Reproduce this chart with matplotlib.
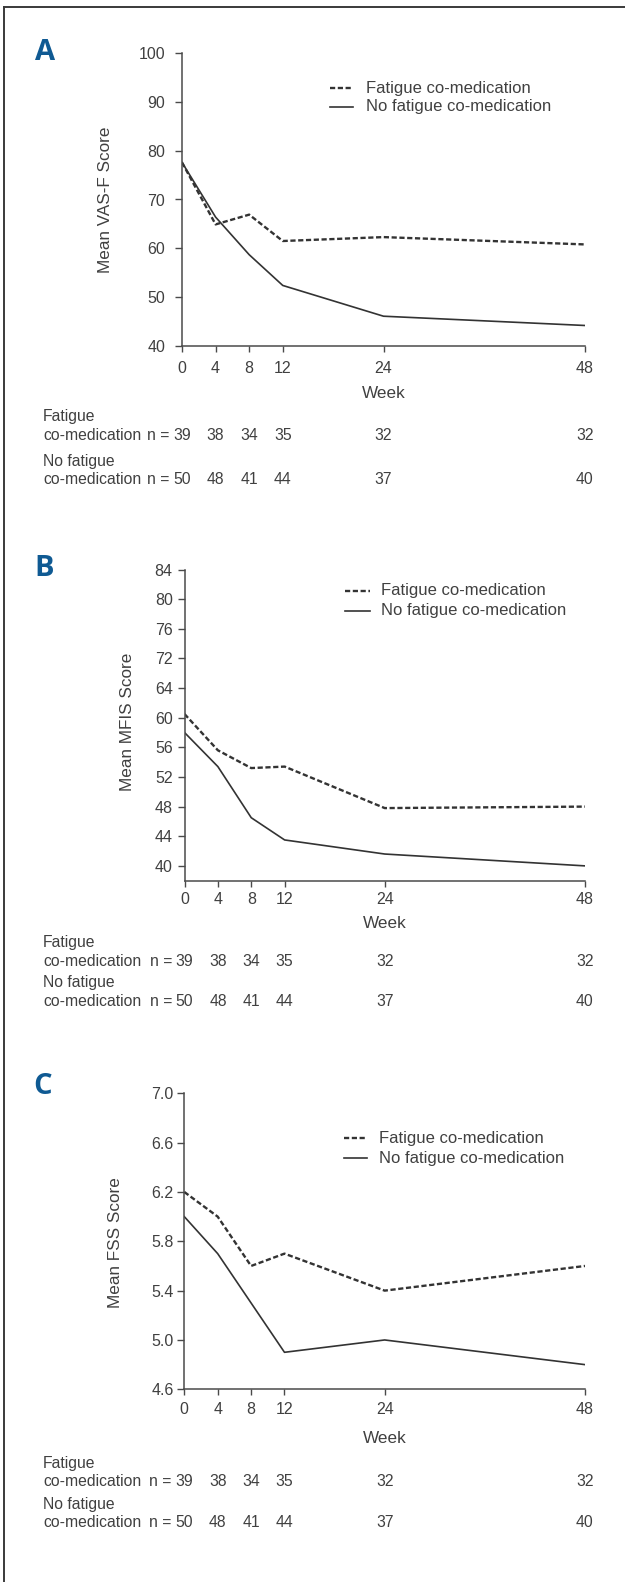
import matplotlib
matplotlib.use("Agg")
import matplotlib.pyplot as plt
from matplotlib.lines import Line2D
from matplotlib.transforms import blended_transform_factory

plt.rcParams['font.family'] = ['Liberation Sans', 'DejaVu Sans']

# --- data ---
weeks = [0, 4, 8, 12, 24, 48]
week_labels = ['0', '4', '8', '12', '24', '48']

vasf_fatigue = [77.6, 64.9, 66.9, 61.5, 62.3, 60.8]
vasf_no_fatigue = [77.6, 66.4, 58.7, 52.4, 46.1, 44.2]

mfis_fatigue = [60.5, 55.6, 53.2, 53.4, 47.8, 48.0]
mfis_no_fatigue = [58.0, 53.4, 46.5, 43.5, 41.6, 40.0]

fss_fatigue = [6.2, 6.0, 5.6, 5.7, 5.4, 5.6]
fss_no_fatigue = [6.0, 5.7, 5.3, 4.9, 5.0, 4.8]

n_fatigue = [39, 38, 34, 35, 32, 32]
n_no_fatigue = [50, 48, 41, 44, 37, 40]

vasf_ticks = [40, 50, 60, 70, 80, 90, 100]
mfis_ticks = [40, 44, 48, 52, 56, 60, 64, 68, 72, 76, 80]
mfis_tick_labels = ['40', '44', '48', '52', '56', '60', '64', '72', '76', '80', '84']
fss_ticks = [4.6, 5.0, 5.4, 5.8, 6.2, 6.6, 7.0]
fss_tick_labels = ['4.6', '5.0', '5.4', '5.8', '6.2', '6.6', '7.0']

legend_labels = ['Fatigue co-medication', 'No fatigue co-medication']

# --- layout (pixels) ---
W, H = 625, 1582
TXT = '#404040'
LINE = '#333333'
BLUE = '#0f5a93'
FS_TICK = 11.5
FS_LAB = 12.3
FS_LEG = 12
FS_TAB = 11.3
DASH = (0, (2.2, 1.1))


def fx(x):
    return x / W


def fy(y):
    return 1 - y / H


fig = plt.figure(figsize=(W / 100, H / 100), dpi=100)
fig.patch.set_facecolor('white')

# outer frame (top and left edges, runs off the page)
fig.add_artist(Line2D([fx(4), fx(W + 5)], [fy(7), fy(7)], transform=fig.transFigure,
                      color='#3a3a3a', lw=1.4))
fig.add_artist(Line2D([fx(4), fx(4)], [fy(7), fy(H + 5)], transform=fig.transFigure,
                      color='#3a3a3a', lw=1.4))

panels = [
    dict(letter='A', rect=(182, 53, 585, 346), ylim=(40, 100), yticks=vasf_ticks,
         yticklabels=[str(t) for t in vasf_ticks], ytpad=7.0, xtpad=6.5,
         fat=vasf_fatigue, nofat=vasf_no_fatigue, ylabel='Mean VAS-F Score',
         letter_xy=(45, 52), ylabel_xy=(106, 200), leg_y=(88, 107), leg_x=(330, 353, 366),
         week_y=393.5, rows=(416.7, 435, 461.7, 480)),
    dict(letter='B', rect=(184.5, 569.5, 585, 880.7), ylim=(38, 80), yticks=mfis_ticks,
         yticklabels=mfis_tick_labels, ytpad=3.5, xtpad=4.0,
         fat=mfis_fatigue, nofat=mfis_no_fatigue, ylabel='Mean MFIS Score',
         letter_xy=(44, 568), ylabel_xy=(127.5, 722), leg_y=(591, 611), leg_x=(345, 370, 381),
         week_y=924, rows=(942.7, 961.3, 982.7, 1001.7)),
    dict(letter='C', rect=(184.3, 1093.3, 585, 1389.3), ylim=(4.6, 7.0), yticks=fss_ticks,
         yticklabels=fss_tick_labels, ytpad=2.7, xtpad=5.5,
         fat=fss_fatigue, nofat=fss_no_fatigue, ylabel='Mean FSS Score',
         letter_xy=(43, 1087), ylabel_xy=(115.6, 1243), leg_y=(1138, 1158), leg_x=(344, 367, 379),
         week_y=1438.3, rows=(1463.3, 1481.7, 1505, 1522.7)),
]

for p in panels:
    l, t, r, b = p['rect']
    ax = fig.add_axes([fx(l), fy(b), (r - l) / W, (b - t) / H])
    ax.plot(weeks, p['fat'], color=LINE, lw=1.7, linestyle=DASH)
    ax.plot(weeks, p['nofat'], color=LINE, lw=1.2)

    ax.set_xlim(0, 48)
    ax.set_ylim(*p['ylim'])
    ax.set_xticks(weeks)
    ax.set_xticklabels(week_labels)
    ax.set_yticks(p['yticks'])
    ax.set_yticklabels(p['yticklabels'])
    for s in ['top', 'right']:
        ax.spines[s].set_visible(False)
    for s in ['left', 'bottom']:
        ax.spines[s].set_color('#4a4a4a')
        ax.spines[s].set_linewidth(1.1)
    ax.tick_params(axis='y', length=5, width=1.0, color='#4a4a4a', labelsize=FS_TICK,
                   labelcolor=TXT, pad=p['ytpad'])
    ax.tick_params(axis='x', length=4, width=1.0, color='#4a4a4a', labelsize=FS_TICK,
                   labelcolor=TXT, pad=p['xtpad'])
    ax.set_facecolor('none')

    # panel letter and axis titles
    fig.text(fx(p['letter_xy'][0]), fy(p['letter_xy'][1]), p['letter'], color=BLUE,
             fontsize=21, fontweight='bold', ha='center', va='center',
             family=['Open Sans', 'DejaVu Sans'])
    fig.text(fx(p['ylabel_xy'][0]), fy(p['ylabel_xy'][1]), p['ylabel'], rotation=90,
             ha='center', va='center', fontsize=FS_LAB, color=TXT)
    fig.text(fx((l + r) / 2), fy(p['week_y']), 'Week', ha='center', va='center',
             fontsize=FS_LAB, color=TXT)

    # legend
    x0, x1, xt = p['leg_x']
    for yy, ls, lw, lab in zip(p['leg_y'], [DASH, '-'], [1.7, 1.2], legend_labels):
        fig.add_artist(Line2D([fx(x0), fx(x1)], [fy(yy), fy(yy)], transform=fig.transFigure,
                              color=LINE, lw=lw, linestyle=ls))
        fig.text(fx(xt), fy(yy), lab, ha='left', va='center', fontsize=FS_LEG, color=TXT)

    # numbers at risk
    trans = blended_transform_factory(ax.transData, fig.transFigure)
    r1, r2, r3, r4 = p['rows']
    fig.text(fx(43), fy(r1), 'Fatigue', ha='left', va='center', fontsize=FS_TAB, color=TXT)
    fig.text(fx(43), fy(r2), 'co-medication', ha='left', va='center', fontsize=FS_TAB, color=TXT)
    fig.text(fx(43), fy(r3), 'No fatigue', ha='left', va='center', fontsize=FS_TAB, color=TXT)
    fig.text(fx(43), fy(r4), 'co-medication', ha='left', va='center', fontsize=FS_TAB, color=TXT)
    for yy, counts in [(r2, n_fatigue), (r4, n_no_fatigue)]:
        for wk, n in zip(weeks, counts):
            ax.text(wk, fy(yy), str(n), transform=trans, ha='center', va='center',
                    fontsize=FS_TAB, color=TXT)
        ax.annotate('n =', xy=(weeks[0], fy(yy)), xycoords=trans, xytext=(-9.0, 0),
                    textcoords='offset points', ha='right', va='center',
                    fontsize=FS_TAB, color=TXT)

fig.savefig('out.png', dpi=100, facecolor='white')
